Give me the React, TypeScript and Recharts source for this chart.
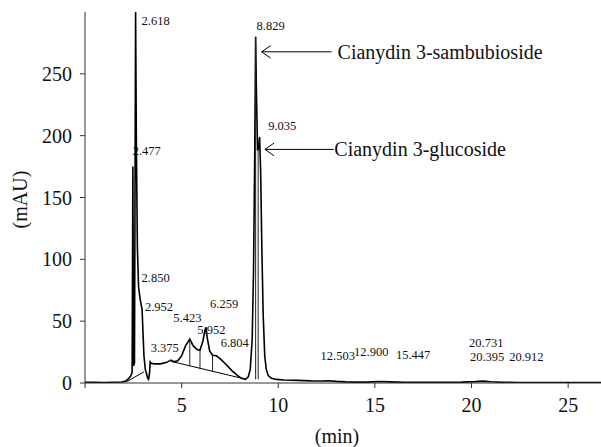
import React from 'react';
import { ComposedChart, Line, XAxis, YAxis, ReferenceLine, ReferenceDot } from 'recharts';

const times = [0, 0.5, 1.0, 1.5, 1.9, 2.1, 2.25, 2.38, 2.44, 2.477, 2.51, 2.56, 2.618, 2.66, 2.71, 2.77, 2.85, 2.91, 2.952, 2.99, 3.05, 3.12, 3.18, 3.24, 3.29, 3.34, 3.375, 3.42, 3.6, 3.9, 4.2, 4.45, 4.6, 4.8, 5.0, 5.2, 5.423, 5.6, 5.8, 5.95, 6.1, 6.2, 6.259, 6.33, 6.45, 6.6, 6.804, 7.0, 7.3, 7.6, 7.9, 8.1, 8.3, 8.45, 8.55, 8.65, 8.72, 8.78, 8.829, 8.87, 8.93, 8.99, 9.035, 9.09, 9.15, 9.22, 9.3, 9.38, 9.48, 9.65, 9.9, 10.3, 11, 11.7, 12.3, 12.6, 13, 13.5, 14, 14.6, 15.2, 15.8, 16.5, 17.5, 18.5, 19.5, 20.2, 20.6, 21.0, 21.6, 22.5, 24, 26.7];
const signal = [0.6, 0.5, 0.4, 0.6, 0.8, 1.5, 3.5, 6, 9, 175, 14, 16, 300, 190, 110, 78, 68, 63, 60, 45, 22, 11, 8, 4, 3, 8, 17, 16, 15.5, 15.5, 16.5, 18.5, 17.2, 18, 22, 30, 35.5, 30, 27, 26.5, 34, 42, 45, 36, 26, 22.5, 22, 19.5, 15, 10, 6, 3.8, 3, 5, 11, 35, 90, 180, 280, 235, 188, 190, 199, 170, 110, 55, 22, 11, 6, 3.8, 2.9, 2.4, 2.1, 1.7, 1.6, 1.8, 1.3, 0.9, 0.7, 0.7, 1.2, 0.9, 0.6, 0.5, 0.6, 0.7, 1.1, 1.5, 1.0, 0.6, 0.4, 0.3, 0.3];

const xTicks = [0, 5, 10, 15, 20, 25];
const yTicks = [0, 50, 100, 150, 200, 250];

// integration baselines: [t1, v1, t2, v2]
const baselines = [
  [2.15, 1, 3.05, 9],
  [4.45, 17.5, 8.2, 3.5],
];
// drop lines: [t, top, bottom]
const dropLines = [
  [5.423, 35.5, 13.8],
  [5.95, 26.5, 11.3],
  [6.6, 22.5, 9.4],
  [8.829, 280, 3],
  [8.96, 189, 3],
];

// peak labels: [text, t, v]
const peakLabels: [string, number, number][] = [
  ['2.618', 2.93, 293],
  ['2.477', 2.47, 188],
  ['2.850', 2.93, 85],
  ['2.952', 3.1, 61.7],
  ['3.375', 3.4, 28],
  ['5.423', 4.57, 52.3],
  ['5.952', 5.81, 42.8],
  ['6.259', 6.47, 63.9],
  ['6.804', 7.02, 32.6],
  ['8.829', 8.88, 288.6],
  ['9.035', 9.48, 207.8],
  ['12.503', 12.19, 21.8],
  ['12.900', 13.92, 25.3],
  ['15.447', 16.09, 22.6],
  ['20.731', 19.87, 32.3],
  ['20.395', 19.92, 21.3],
  ['20.912', 21.95, 21.3],
];

// annotations: [text, tipT, endT, v, textT]
const annotations: [string, number, number, number, number][] = [
  ['Cianydin 3-sambubioside', 9.14, 12.76, 267.8, 13.07],
  ['Cianydin 3-glucoside', 9.31, 12.88, 188.9, 12.9],
];
const headDT = 0.47;
const headDV = 5.1;

const trace = times.map((t, i) => ({ t, v: signal[i] }));

const FONT = '"Liberation Serif", "Times New Roman", serif';
const AX = '#333';

const XTick = (p: any) => {
  const v = p.payload.value;
  if (v === 0) return <g />;
  return (
    <text x={p.x} y={p.y + 8} textAnchor="middle" dominantBaseline="hanging" fontSize={20} fontFamily={FONT} fill="#111">{v}</text>
  );
};
const YTick = (p: any) => (
  <text x={p.x - 6} y={p.y} textAnchor="end" dominantBaseline="central" fontSize={20} fontFamily={FONT} fill="#111">{p.payload.value}</text>
);

export default function App() {
  return (
    <div style={{ position: 'absolute', left: 0, top: 0, background: '#fff', fontFamily: FONT }}>
      <ComposedChart width={601} height={447} margin={{ top: 12, right: 0, left: 0, bottom: 0 }}>
        <XAxis
          type="number"
          dataKey="t"
          domain={[0, 26.7]}
          ticks={xTicks}
          allowDataOverflow
          height={64}
          stroke={AX}
          tickSize={5}
          tick={XTick}
          label={{
            content: (props: any) => {
              const vb = props.viewBox;
              return (
                <text x={vb.x + vb.width / 2 - 6} y={vb.y + 53} textAnchor="middle" dominantBaseline="central" fontSize={20} fontFamily={FONT} fill="#111">(min)</text>
              );
            },
          }}
        />
        <YAxis
          type="number"
          domain={[0, 300]}
          ticks={yTicks}
          allowDataOverflow
          width={85}
          stroke={AX}
          tickSize={5}
          tick={YTick}
          label={{
            content: (props: any) => {
              const vb = props.viewBox;
              const cx = vb.x + 20;
              const cy = vb.y + vb.height / 2 + 2;
              return (
                <text x={cx} y={cy} transform={`rotate(-90, ${cx}, ${cy})`} textAnchor="middle" dominantBaseline="central" fontSize={20} fontFamily={FONT} fill="#111">(mAU)</text>
              );
            },
          }}
        />
        <Line data={trace} dataKey="v" type="linear" stroke="#000" strokeWidth={1.6} dot={false} isAnimationActive={false} />
        {baselines.map((b, i) => (
          <ReferenceLine key={'b' + i} segment={[{ x: b[0], y: b[1] }, { x: b[2], y: b[3] }]} stroke="#000" strokeWidth={1} ifOverflow="visible" />
        ))}
        {dropLines.map((d, i) => (
          <ReferenceLine key={'d' + i} segment={[{ x: d[0], y: d[1] }, { x: d[0], y: d[2] }]} stroke="#222" strokeWidth={1} ifOverflow="visible" />
        ))}
        {annotations.map((a, i) => (
          <ReferenceLine key={'a' + i} segment={[{ x: a[1], y: a[3] }, { x: a[2], y: a[3] }]} stroke="#000" strokeWidth={1} ifOverflow="visible" />
        ))}
        {annotations.map((a, i) => (
          <ReferenceLine key={'h1' + i} segment={[{ x: a[1], y: a[3] }, { x: a[1] + headDT, y: a[3] + headDV }]} stroke="#000" strokeWidth={1} ifOverflow="visible" />
        ))}
        {annotations.map((a, i) => (
          <ReferenceLine key={'h2' + i} segment={[{ x: a[1], y: a[3] }, { x: a[1] + headDT, y: a[3] - headDV }]} stroke="#000" strokeWidth={1} ifOverflow="visible" />
        ))}
        {annotations.map((a, i) => (
          <ReferenceDot
            key={'at' + i}
            x={a[4]}
            y={a[3]}
            r={0}
            ifOverflow="visible"
            shape={(p: any) => (
              <text x={p.cx} y={p.cy} textAnchor="start" dominantBaseline="central" fontSize={20} fontFamily={FONT} fill="#111">{a[0]}</text>
            )}
          />
        ))}
        {peakLabels.map((l, i) => (
          <ReferenceDot
            key={'p' + i}
            x={l[1]}
            y={l[2]}
            r={0}
            ifOverflow="visible"
            shape={(p: any) => (
              <text x={p.cx} y={p.cy} textAnchor="start" dominantBaseline="central" fontSize={12.5} fontFamily={FONT} fill="#111">{l[0]}</text>
            )}
          />
        ))}
      </ComposedChart>
    </div>
  );
}
